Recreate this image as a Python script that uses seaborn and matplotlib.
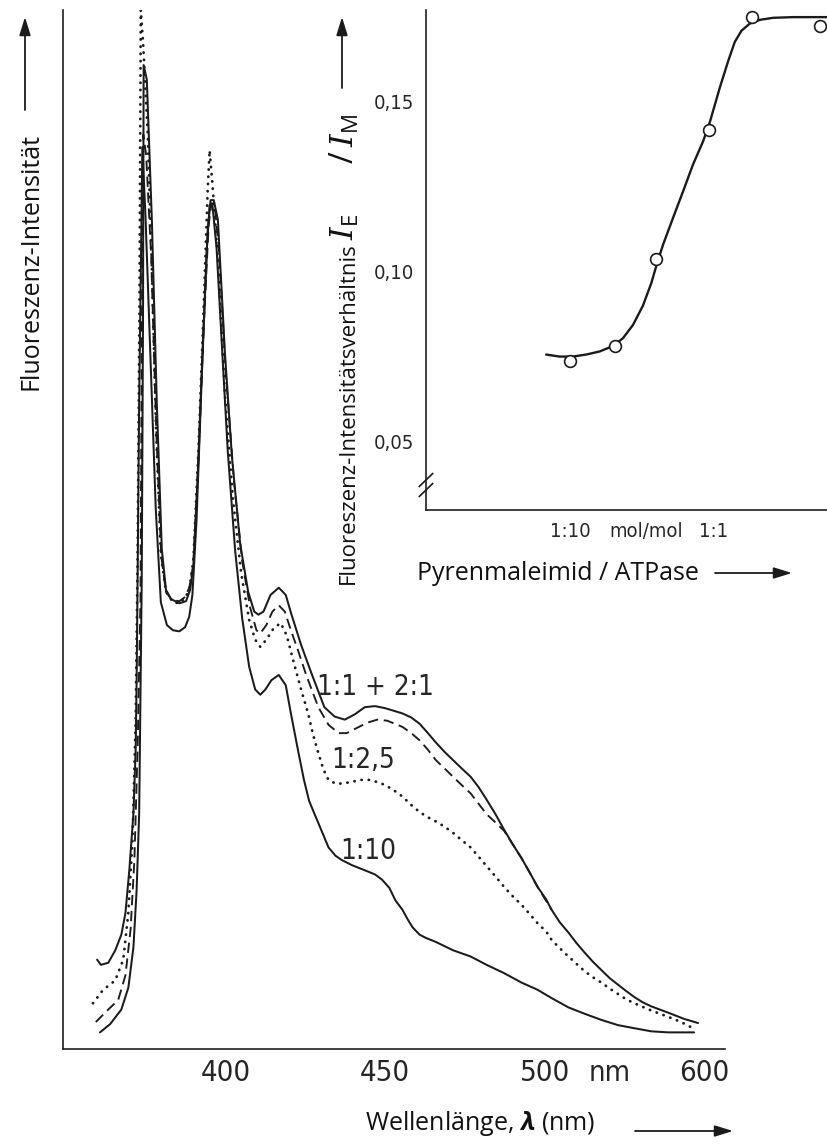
import matplotlib
matplotlib.use("Agg")
import matplotlib.pyplot as plt
from matplotlib import font_manager
from matplotlib.font_manager import FontProperties
from matplotlib.patches import FancyArrowPatch
from matplotlib.ticker import FixedLocator, FixedFormatter
import numpy as np
import pandas as pd
import seaborn as sns

# ---------------------------------------------------------------------------
# Emission spectra: (wavelength in nm, relative fluorescence intensity)
# ---------------------------------------------------------------------------
spec_1_1_plus_2_1 = [
    (360.5, 1.6), (363.7, 2.4), (367.2, 3.8), (369.4, 5.9), (371.0, 9.8),
    (372.0, 15.3), (372.8, 22.7), (373.6, 45.1), (374.0, 70.0), (374.2, 94.7),
    (375.2, 93.3), (376.8, 79.6), (378.3, 62.5), (379.9, 48.1), (381.2, 44.2),
    (382.8, 43.3), (385.4, 42.9), (387.5, 43.1), (388.8, 44.2), (389.8, 46.6),
    (391.1, 54.8), (392.7, 67.3), (394.3, 78.8), (395.2, 81.7), (396.2, 81.7),
    (397.5, 79.8), (399.7, 67.0), (401.9, 57.0), (404.5, 48.6), (407.0, 44.0),
    (408.9, 42.1), (410.2, 41.8), (411.8, 42.1), (414.0, 43.7), (416.6, 44.4),
    (418.8, 43.7), (420.4, 42.0), (423.6, 38.9), (426.8, 36.2), (430.9, 32.9),
    (434.1, 32.0), (437.3, 31.7), (440.4, 32.2), (443.6, 32.9), (446.8, 33.0),
    (450.0, 32.8), (455.4, 32.3), (458.2, 31.9), (460.8, 31.3), (463.4, 30.4),
    (465.9, 29.5), (468.6, 28.6), (471.3, 27.8), (474.0, 27.0), (476.8, 26.2),
    (479.3, 25.2), (481.8, 24.0), (484.6, 22.6), (487.3, 21.1), (490.0, 19.7),
    (492.7, 18.4), (495.3, 17.0), (497.8, 15.6), (501.0, 14.4), (504.4, 13.4),
    (509.5, 12.2), (515.0, 11.2), (520.0, 10.2), (525.0, 9.3), (530.3, 8.4),
    (535.6, 7.6), (541.0, 6.8), (546.0, 6.2), (551.0, 5.6), (556.3, 5.0),
    (561.5, 4.5), (567.0, 4.1), (577.5, 3.5), (587.5, 2.9), (596.3, 2.5),
]

spec_1_1_dashed = [
    (359.2, 2.6), (363.1, 3.8), (366.2, 4.7), (368.5, 7.1), (370.1, 11.5),
    (371.3, 18.2), (372.3, 28.8), (373.2, 43.2), (373.6, 67.3), (374.1, 88.0),
    (375.0, 86.0), (376.6, 76.0), (378.1, 60.0), (379.7, 47.5), (381.2, 44.0),
    (383.1, 43.2), (385.4, 43.1), (387.2, 43.5), (388.5, 44.4), (389.8, 46.6),
    (391.4, 56.7), (393.0, 69.2), (394.6, 79.3), (395.5, 81.4), (396.5, 81.2),
    (397.8, 77.0), (400.0, 65.0), (402.6, 54.5), (405.1, 47.0), (407.6, 42.5),
    (409.6, 40.3), (410.8, 40.0), (412.7, 40.8), (414.6, 42.1), (416.6, 42.7),
    (418.5, 42.1), (420.4, 40.3), (422.6, 38.4), (425.2, 36.0), (429.0, 32.9),
    (432.2, 31.2), (435.4, 30.4), (437.9, 30.4), (441.1, 30.9), (444.3, 31.4),
    (447.5, 31.7), (450.6, 31.6), (455.4, 31.0), (458.2, 30.4), (460.8, 29.7),
    (463.4, 28.8), (465.9, 27.8), (468.6, 27.0), (471.3, 26.2), (474.0, 25.4),
    (476.8, 24.6), (479.3, 23.6), (481.8, 22.6), (484.6, 21.8), (487.3, 21.0),
    (490.0, 19.7), (492.7, 18.4), (495.3, 17.0), (497.8, 15.6), (504.4, 13.4),
]

spec_1_2_5 = [
    (358.3, 4.4), (361.5, 5.7), (365.3, 6.6), (367.8, 8.6), (369.4, 13.1),
    (370.7, 20.1), (371.7, 31.7), (372.3, 47.1), (372.9, 72.1), (373.3, 100.0),
    (374.0, 97.0), (374.5, 94.0), (375.5, 88.0), (376.8, 75.0), (378.1, 59.6),
    (379.6, 47.6), (381.2, 44.0), (383.4, 43.0), (385.4, 42.9), (387.2, 43.4),
    (388.5, 44.2), (389.8, 47.1), (391.4, 57.7), (393.0, 71.1), (394.3, 82.7),
    (394.9, 86.5), (395.8, 83.2), (397.5, 76.0), (399.7, 63.0), (402.2, 53.0),
    (404.8, 45.8), (407.3, 41.3), (409.2, 39.4), (410.8, 38.7), (412.7, 39.4),
    (415.0, 40.5), (417.2, 41.0), (419.1, 39.8), (421.3, 37.2), (423.6, 34.6),
    (425.8, 32.3), (427.4, 30.2), (429.0, 28.5), (430.6, 26.9), (432.2, 25.9),
    (434.7, 25.5), (437.3, 25.6), (439.5, 25.7), (442.0, 25.9), (444.9, 25.9),
    (447.5, 25.7), (450.0, 25.4), (452.7, 24.9), (455.4, 24.3), (458.1, 23.5),
    (460.8, 22.8), (463.4, 22.3), (465.9, 21.9), (468.6, 21.4), (471.3, 20.8),
    (474.0, 20.1), (476.8, 19.4), (479.3, 18.5), (481.8, 17.6), (484.6, 16.6),
    (487.3, 15.6), (490.0, 14.7), (492.7, 13.9), (495.3, 13.0), (497.8, 12.1),
    (501.0, 11.3), (504.4, 10.5), (509.5, 9.7), (515.0, 8.9), (520.0, 8.2),
    (525.0, 7.5), (530.3, 6.9), (535.6, 6.4), (541.0, 5.8), (546.0, 5.3),
    (551.0, 4.8), (556.3, 4.4), (567.0, 3.7), (577.5, 3.1), (585.6, 2.6),
    (591.9, 2.1),
]

spec_1_10 = [
    (359.6, 8.6), (360.8, 8.1), (363.1, 8.3), (365.3, 9.5), (367.2, 11.0),
    (368.5, 13.1), (369.7, 17.2), (371.0, 22.7), (371.7, 28.8), (372.0, 35.5),
    (372.3, 45.1), (372.8, 62.5), (373.4, 76.9), (373.8, 86.8), (374.8, 80.0),
    (376.4, 66.0), (378.0, 52.0), (379.6, 43.0), (381.5, 40.8), (383.4, 40.3),
    (385.4, 40.2), (387.2, 40.6), (388.5, 41.6), (389.5, 43.7), (390.8, 50.9),
    (392.4, 64.4), (394.0, 76.9), (394.9, 81.2), (395.8, 81.2), (397.1, 77.0),
    (398.7, 68.0), (400.6, 57.5), (402.9, 48.0), (405.1, 41.5), (407.3, 36.8),
    (409.2, 34.6), (410.8, 34.1), (412.4, 34.6), (414.3, 35.5), (416.6, 36.0),
    (418.8, 35.0), (420.4, 32.3), (422.6, 28.8), (424.5, 25.9), (426.1, 23.9),
    (427.7, 22.7), (429.9, 21.1), (432.2, 19.4), (434.4, 18.6), (436.3, 18.2),
    (439.5, 17.7), (443.6, 17.2), (446.8, 16.8), (449.0, 16.3), (451.3, 15.5),
    (453.2, 14.3), (455.4, 13.4), (457.0, 12.5), (458.6, 11.7), (460.8, 11.0),
    (462.7, 10.7), (465.9, 10.3), (471.3, 9.5), (476.8, 8.9), (481.8, 8.1),
    (487.3, 7.3), (492.7, 6.4), (497.8, 5.7), (504.4, 4.9), (515.0, 4.0),
    (525.0, 3.4), (535.6, 2.8), (546.0, 2.3), (556.3, 2.0), (567.0, 1.7),
    (577.5, 1.6), (585.6, 1.6), (593.8, 1.6),
]

wavelength_ticks = [400, 450, 500, 600]
wavelength_labels = ["400", "450", "500", "600"]

# ---------------------------------------------------------------------------
# Inset: excimer/monomer ratio vs. pyrenemaleimide / ATPase (mol/mol)
# ---------------------------------------------------------------------------
ratio_measured = [0.10, 0.205, 0.40, 0.94, 1.87, 5.6]
ie_im_measured = [0.0735, 0.078, 0.1037, 0.1417, 0.1748, 0.1722]

ratio_curve = [0.0679, 0.0842, 0.1044, 0.1295, 0.1607, 0.199, 0.234, 0.275,
               0.323, 0.370, 0.405, 0.447, 0.525, 0.617, 0.724, 0.851, 0.948,
               1.114, 1.274, 1.419, 1.58, 1.808, 2.124, 2.634, 3.636, 6.37]
ie_im_curve = [0.0755, 0.0749, 0.0749, 0.0755, 0.0764, 0.0780, 0.0803, 0.0842,
               0.0899, 0.0966, 0.1023, 0.1079, 0.1158, 0.1236, 0.1315, 0.1383,
               0.1439, 0.1541, 0.1619, 0.1676, 0.1709, 0.1730, 0.1741, 0.1747,
               0.1749, 0.1749]

ratio_ticks = [0.1, 1.0]
ratio_tick_labels = ["1:10", "1:1"]
ie_im_ticks = [0.05, 0.10, 0.15]
ie_im_tick_labels = ["0,05", "0,10", "0,15"]

# ---------------------------------------------------------------------------
sns.set_theme(style="white")
plt.rcParams.update({
    "font.family": ["Open Sans", "DejaVu Sans"],
    "mathtext.fontset": "custom",
    "mathtext.rm": "Open Sans",
    "mathtext.it": "DejaVu Serif:italic",
    "mathtext.bf": "Open Sans:bold",
    "axes.linewidth": 1.2,
    "axes.edgecolor": "#1e1e1e",
    "xtick.color": "#1e1e1e",
    "ytick.color": "#1e1e1e",
})
try:
    plt.rcParams["mathtext.bfit"] = "Open Sans:bold:italic"
    HAS_BFIT = True
except KeyError:
    HAS_BFIT = False

INK = "#1b1b1b"
TXT = "#262626"

_available = {(f.name, f.stretch) for f in font_manager.fontManager.ttflist}
_has_cond = any(n == "DejaVu Sans" and s != "normal" for n, s in _available)


def din(size):
    """Narrow technical face for numbers and curve annotations."""
    if _has_cond:
        return FontProperties(family="DejaVu Sans", stretch="condensed", size=size)
    return FontProperties(family="Roboto", size=size)


W, H = 828, 1145
fig = plt.figure(figsize=(W / 100, H / 100), dpi=100)
fig.patch.set_facecolor("white")


def fx(x):
    return x / W


def fy(y):
    return 1 - y / H


# ------------------------------ main spectrum ------------------------------
ax = fig.add_axes([fx(63), fy(1049), fx(725) - fx(63), fy(10) - fy(1049)])
ax.set_facecolor("none")


def _fwd(x):
    x = np.asarray(x, dtype=float)
    return np.where(x <= 500, x, 500 + (x - 500) / 2)


def _inv(y):
    y = np.asarray(y, dtype=float)
    return np.where(y <= 500, y, 500 + (y - 500) * 2)


ax.set_xscale("function", functions=(_fwd, _inv))

styles = [
    (spec_1_10, dict(lw=1.45, linestyle="-")),
    (spec_1_2_5, dict(lw=2.0, linestyle=(0, (0.1, 2.5)), dash_capstyle="round")),
    (spec_1_1_dashed, dict(lw=1.35, linestyle=(0, (5.5, 3.0)))),
    (spec_1_1_plus_2_1, dict(lw=1.45, linestyle="-")),
]
for spec, kw in styles:
    df = pd.DataFrame(spec, columns=["wl", "intensity"])
    sns.lineplot(data=df, x="wl", y="intensity", ax=ax, color=INK,
                 sort=False, estimator=None, legend=False,
                 solid_joinstyle="round", **kw)

ax.set_xlim(348.9, 613.2)
ax.set_ylim(0, 100)
ax.set_xlabel("")
ax.set_ylabel("")
ax.set_yticks([])
ax.xaxis.set_major_locator(FixedLocator(wavelength_ticks))
ax.xaxis.set_major_formatter(FixedFormatter(wavelength_labels))
ax.xaxis.set_minor_locator(FixedLocator([541]))
ax.xaxis.set_minor_formatter(FixedFormatter(["nm"]))
ax.tick_params(axis="x", which="major", direction="out", length=5.5, width=1.2,
               pad=1.5, colors=INK, labelcolor=TXT)
ax.tick_params(axis="x", which="minor", length=0, pad=1.5 + 5.5, labelcolor=TXT)
for lab in ax.get_xticklabels(which="both"):
    lab.set_fontproperties(din(21))
sns.despine(ax=ax, top=True, right=True)

# curve annotations
for txt, x, y in [("1:1 + 2:1", 375, 695), ("1:2,5", 363, 768), ("1:10", 368, 859)]:
    fig.text(fx(x), fy(y), txt, ha="center", va="baseline",
             fontproperties=din(20), color=TXT)

# ------------------------------ inset --------------------------------------
ax2 = fig.add_axes([fx(426), fy(510), fx(828) - fx(426), fy(10) - fy(510)])
ax2.set_facecolor("none")
ax2.set_xscale("log")
sns.lineplot(x=ratio_curve, y=ie_im_curve, ax=ax2, color=INK, lw=1.7,
             sort=False, estimator=None, legend=False)
sns.scatterplot(x=ratio_measured, y=ie_im_measured, ax=ax2, marker="o", s=72,
                facecolor="white", edgecolor=INK, linewidth=1.2, zorder=3,
                legend=False)
ax2.set_xlim(0.0098, 6.37)
ax2.set_ylim(0.0297, 0.177)
ax2.set_xlabel("")
ax2.set_ylabel("")
ax2.xaxis.set_major_locator(FixedLocator(ratio_ticks))
ax2.xaxis.set_major_formatter(FixedFormatter(ratio_tick_labels))
ax2.xaxis.set_minor_locator(FixedLocator([0.34]))
ax2.xaxis.set_minor_formatter(FixedFormatter(["mol/mol"]))
ax2.yaxis.set_major_locator(FixedLocator(ie_im_ticks))
ax2.yaxis.set_major_formatter(FixedFormatter(ie_im_tick_labels))
ax2.tick_params(axis="both", which="major", direction="out", length=5.5,
                width=1.2, pad=3, colors=INK, labelcolor=TXT)
ax2.tick_params(axis="x", which="minor", length=0, pad=3 + 5.5, labelcolor=TXT)
for lab in ax2.get_xticklabels(which="both") + ax2.get_yticklabels():
    lab.set_fontproperties(din(14.5))
sns.despine(ax=ax2, top=True, right=True)

# axis-break marks on the inset ordinate
for c in (0.040, 0.060):
    ax2.plot([-0.018, 0.018], [c - 0.014, c + 0.014], transform=ax2.transAxes,
             color=INK, lw=1.2, clip_on=False, solid_capstyle="butt")

# ------------------------------ labels & arrows ----------------------------
def arrow(x0, y0, x1, y1):
    fig.add_artist(FancyArrowPatch(
        (fx(x0), fy(y0)), (fx(x1), fy(y1)), transform=fig.transFigure,
        arrowstyle="-|>,head_length=11,head_width=3.4", mutation_scale=1,
        lw=1.3, color=INK, shrinkA=0, shrinkB=0))


lam = r"$\mathbfit{\lambda}$" if HAS_BFIT else r"$\mathbf{\lambda}$"
fig.text(fx(595), fy(1130), "Wellenlänge, " + lam + " (nm)", ha="right",
         va="baseline", fontsize=18, color="#111111")
arrow(635, 1131, 733, 1131)

fig.text(fx(558), fy(580), "Pyrenmaleimid / ATPase", ha="center",
         va="baseline", fontsize=18, color="#111111")
arrow(715, 573, 792, 573)

fig.text(fx(31), fy(133), "Fluoreszenz-Intensität", rotation=90, ha="center",
         va="top", fontsize=18, color="#111111")
arrow(25, 110, 25, 17)

# inset ordinate title: words plus the I_E / I_M ratio set larger above them
fig.text(fx(348), fy(584), "Fluoreszenz-Intensitätsverhältnis", rotation=90,
         ha="center", va="bottom", fontsize=16, color="#111111")
fig.text(fx(345), fy(240), r"$I_{\mathrm{E}}\quad\ \ /\,I_{\mathrm{M}}$",
         rotation=90, ha="center", va="bottom", fontsize=23, color="#111111")
arrow(342, 88, 342, 17)

fig.savefig("out.png", dpi=100, facecolor="white")
